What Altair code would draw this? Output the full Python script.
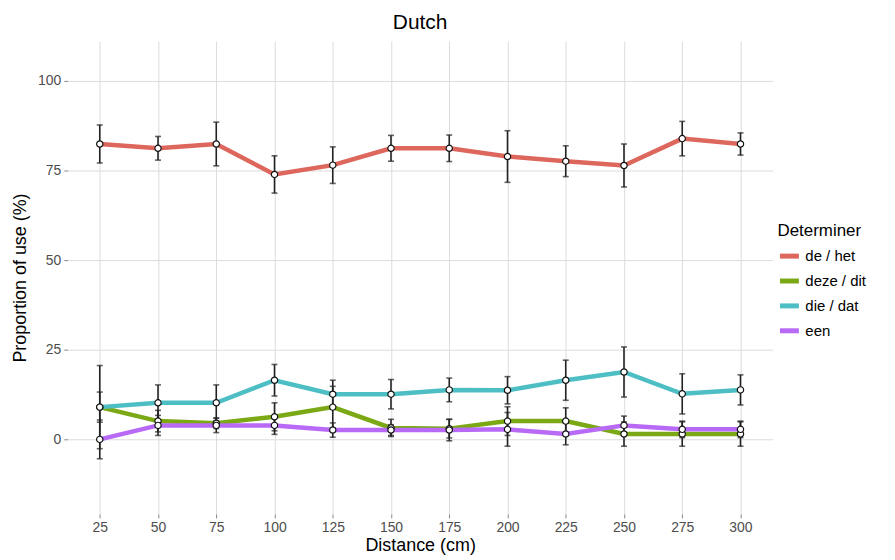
import altair as alt
import pandas as pd

distances = [25, 50, 75, 100, 125, 150, 175, 200, 225, 250, 275, 300]
determiners = ["de / het", "deze / dit", "die / dat", "een"]
colors = ["#DE675D", "#7BA815", "#4DBFC4", "#B86AF7"]

de_het = [82.4, 81.2, 82.4, 73.9, 76.5, 81.2, 81.2, 78.9, 77.6, 76.4, 83.9, 82.4]
de_het_err = [5.3, 3.3, 6.1, 5.2, 5.1, 3.6, 3.7, 7.2, 4.3, 6.0, 4.8, 3.1]
deze_dit = [9.0, 5.1, 4.5, 6.3, 9.0, 3.2, 3.0, 5.1, 5.1, 1.5, 1.5, 1.5]
deze_dit_err = [4.2, 3.0, 1.5, 3.9, 5.8, 2.4, 2.6, 4.0, 3.7, 3.4, 3.4, 3.4]
die_dat = [9.0, 10.2, 10.2, 16.5, 12.6, 12.6, 13.8, 13.7, 16.5, 18.8, 12.7, 13.8]
die_dat_err = [11.6, 5.0, 5.0, 4.4, 3.9, 4.1, 3.3, 3.8, 5.6, 7.0, 5.6, 4.2]
een = [0.0, 3.9, 3.9, 3.9, 2.6, 2.6, 2.6, 2.8, 1.5, 3.9, 2.8, 2.8]
een_err = [5.4, 2.8, 2.0, 2.5, 2.0, 1.5, 3.0, 4.7, 3.0, 2.6, 2.3, 2.3]

values = [de_het, deze_dit, die_dat, een]
errors = [de_het_err, deze_dit_err, die_dat_err, een_err]

rows = []
for name, vals, errs in zip(determiners, values, errors):
    for d, v, e in zip(distances, vals, errs):
        rows.append({"distance": d, "determiner": name, "value": v,
                     "lo": v - e, "hi": v + e})
df = pd.DataFrame(rows)

FONT = "Liberation Sans"

x_enc = alt.X("distance:Q",
              scale=alt.Scale(domain=[11.25, 313.75], nice=False, zero=False),
              axis=alt.Axis(values=distances, title="Distance (cm)"))
y_enc = alt.Y("value:Q",
              scale=alt.Scale(domain=[-20.8, 111.1], nice=False, zero=False),
              axis=alt.Axis(values=[0, 25, 50, 75, 100], title="Proportion of use (%)"))

base = alt.Chart(df)

lines = base.mark_line(strokeWidth=4.5).encode(
    x=x_enc, y=y_enc,
    color=alt.Color("determiner:N",
                    scale=alt.Scale(domain=determiners, range=colors),
                    legend=alt.Legend(title="Determiner", orient="none",
                                      legendX=713, legendY=183,
                                      symbolType="stroke", symbolStrokeWidth=5,
                                      symbolSize=360, labelFontSize=15,
                                      titleFontSize=17, titleFontWeight="normal",
                                      labelFont=FONT, titleFont=FONT,
                                      rowPadding=3, titlePadding=4,
                                      labelColor="#000000", titleColor="#000000"))
)

bars = base.mark_rule(color="#222222", strokeWidth=1.6).encode(
    x="distance:Q", y="lo:Q", y2="hi:Q", detail="determiner:N"
)
cap_lo = base.mark_tick(color="#222222", orient="horizontal", size=6, thickness=1.6).encode(
    x="distance:Q", y="lo:Q", detail="determiner:N"
)
cap_hi = base.mark_tick(color="#222222", orient="horizontal", size=6, thickness=1.6).encode(
    x="distance:Q", y="hi:Q", detail="determiner:N"
)
points = base.mark_point(filled=True, fill="white", stroke="#111111",
                         strokeWidth=1.2, size=40, opacity=1).encode(
    x="distance:Q", y="value:Q", detail="determiner:N"
)

chart = alt.layer(lines, bars, cap_lo, cap_hi, points).properties(
    width=708, height=475,
    title=alt.TitleParams("Dutch", fontSize=21, font=FONT, fontWeight="normal",
                          color="#000000", offset=8, anchor="middle"),
    autosize=alt.AutoSizeParams(type="none"),
    padding={"left": 60, "top": 32, "right": 115, "bottom": 44},
).configure_view(stroke=None).configure_axis(
    grid=True, gridColor="#DCDCDC", gridWidth=1, domain=False,
    tickColor="#888888", tickSize=4, labelFont=FONT, titleFont=FONT,
    labelFontSize=14, labelColor="#4D4D4D", titleFontSize=18,
    titleFontWeight="normal", titleColor="#000000", labelPadding=3
).configure_axisX(titlePadding=2).configure_axisY(titlePadding=8)

chart.save("out.html", embed_options={"renderer": "svg", "actions": False})
